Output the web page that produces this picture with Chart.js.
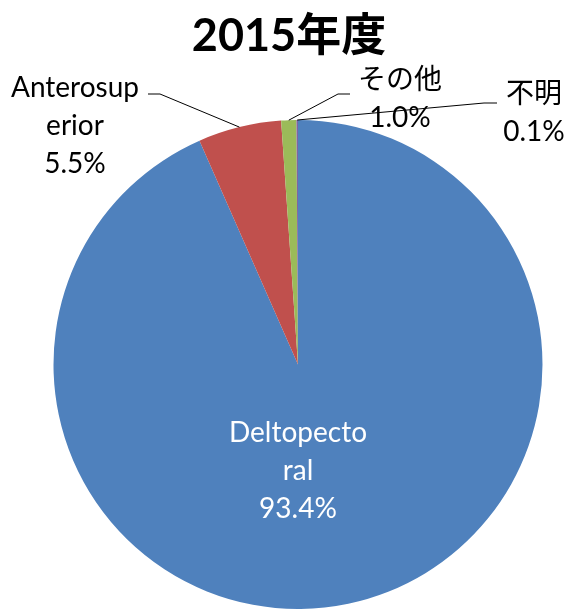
<!DOCTYPE html>
<html>
<head>
<meta charset="utf-8">
<script src="https://cdn.jsdelivr.net/npm/chart.js@4"></script>
<style>
  html, body { margin: 0; padding: 0; background: #ffffff; }
  #wrap { width: 572px; height: 609px; position: relative; }
</style>
</head>
<body>
<div id="wrap"><canvas id="chart"></canvas></div>
<script>
// Surgical approach share, fiscal 2015
const chartTitle = '2015年度';
const categories = ['Deltopectoral', 'Anterosuperior', 'その他', '不明'];
const shares = [93.4, 5.5, 1.0, 0.1];
// wrapped label text for each slice (the percentage line is added from shares)
const labelLines = [['Deltopecto', 'ral'], ['Anterosup', 'erior'], ['その他'], ['不明']];
const sliceColors = ['#4F81BD', '#C0504D', '#9BBB59', '#8064A2'];

const FONT = 'Lato, "Noto Sans CJK JP", sans-serif';

// where each label sits; slice 0 is labelled inside, the rest get leader lines
const labelPlacement = [
  { inside: true, dx: 0, dy: 68, color: '#ffffff' },
  { x: 75, y: 88, elbow: [160, 94], end: [148, 94], color: '#000000' },
  { x: 400, y: 80, elbow: [338, 94], end: [350, 94], color: '#000000' },
  { x: 534, y: 94, elbow: [484, 103], end: [497, 103], color: '#000000' }
];
const lineGap = 38;

const labelPlugin = {
  id: 'sliceLabels',
  afterDatasetsDraw(chart) {
    const ctx = chart.ctx;
    const arcs = chart.getDatasetMeta(0).data;
    ctx.save();
    ctx.font = '28px ' + FONT;
    ctx.textAlign = 'center';
    ctx.textBaseline = 'middle';
    arcs.forEach((arc, i) => {
      const p = labelPlacement[i];
      const lines = labelLines[i].concat([shares[i].toFixed(1) + '%']);
      let x, y;
      if (p.inside) {
        x = arc.x + p.dx;
        y = arc.y + p.dy;
      } else {
        const mid = (arc.startAngle + arc.endAngle) / 2;
        const sx = arc.x + Math.cos(mid) * arc.outerRadius;
        const sy = arc.y + Math.sin(mid) * arc.outerRadius;
        ctx.beginPath();
        ctx.strokeStyle = '#000000';
        ctx.lineWidth = 1;
        ctx.moveTo(sx, sy);
        ctx.lineTo(p.elbow[0], p.elbow[1]);
        ctx.lineTo(p.end[0], p.end[1]);
        ctx.stroke();
        x = p.x;
        y = p.y;
      }
      ctx.fillStyle = p.color;
      lines.forEach((t, k) => ctx.fillText(t, x, y + k * lineGap));
    });
    // title
    ctx.font = 'bold 45px ' + FONT;
    ctx.fillStyle = '#000000';
    ctx.fillText(chartTitle, 289, 36);
    ctx.restore();
  }
};

new Chart(document.getElementById('chart'), {
  type: 'pie',
  data: {
    labels: categories,
    datasets: [{
      data: shares,
      backgroundColor: sliceColors,
      borderWidth: 0
    }]
  },
  options: {
    responsive: true,
    maintainAspectRatio: false,
    animation: false,
    layout: { padding: { top: 120, bottom: 0, left: 53, right: 29 } },
    plugins: {
      legend: { display: false },
      tooltip: { enabled: false },
      title: { display: false }
    }
  },
  plugins: [labelPlugin]
});
</script>
</body>
</html>
